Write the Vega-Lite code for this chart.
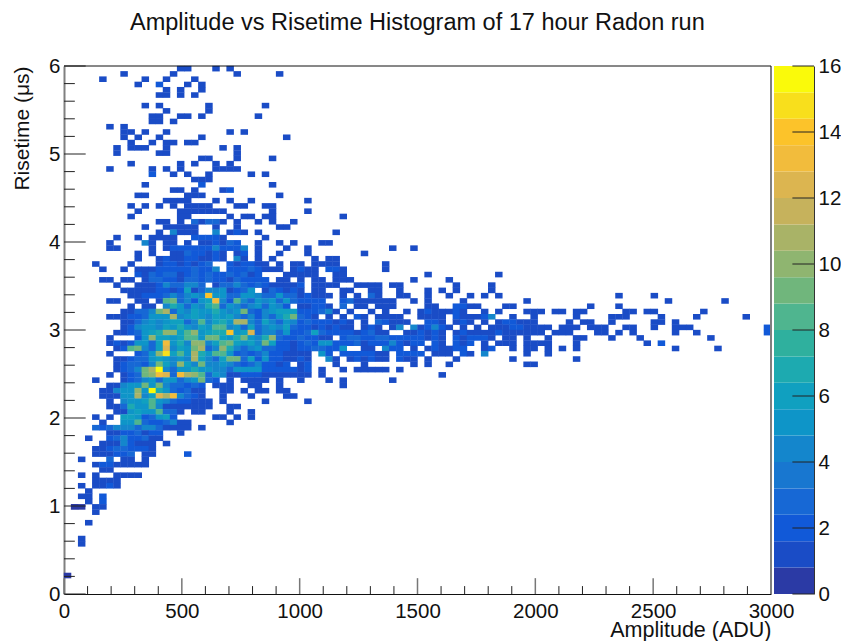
{"$schema":"https://vega.github.io/schema/vega-lite/v6.json","autosize":{"type":"pad"},"padding":{"left":11,"top":10,"right":0,"bottom":0},"background":"white","config":{"view":{"stroke":null},"font":"Liberation Sans"},"title":{"text":"Amplitude vs Risetime Histogram of 17 hour Radon run","font":"Liberation Sans","fontSize":23.5,"fontWeight":"normal","color":"#111111","anchor":"start","frame":"group","dx":66,"offset":22},"bounds":"flush","spacing":3,"hconcat":[{"width":707,"height":528,"layer":[{"data":{"values":[
{"a":495,"t":5.97,"n":1},{"a":525,"t":5.97,"n":1},{"a":645,"t":5.97,"n":1},{"a":705,"t":5.97,"n":1},
{"a":255,"t":5.91,"n":1},{"a":465,"t":5.91,"n":1},{"a":735,"t":5.91,"n":1},{"a":915,"t":5.91,"n":1},
{"a":165,"t":5.85,"n":1},{"a":345,"t":5.85,"n":1},{"a":435,"t":5.85,"n":1},{"a":555,"t":5.85,"n":1},
{"a":315,"t":5.79,"n":1},{"a":405,"t":5.79,"n":2},{"a":525,"t":5.79,"n":1},{"a":585,"t":5.79,"n":1},
{"a":435,"t":5.73,"n":1},{"a":495,"t":5.73,"n":1},{"a":585,"t":5.73,"n":1},
{"a":405,"t":5.67,"n":1},{"a":435,"t":5.67,"n":1},{"a":495,"t":5.67,"n":1},{"a":555,"t":5.67,"n":1},
{"a":345,"t":5.55,"n":1},{"a":405,"t":5.55,"n":1},{"a":615,"t":5.55,"n":1},{"a":855,"t":5.55,"n":1},
{"a":435,"t":5.49,"n":1},{"a":615,"t":5.49,"n":1},
{"a":375,"t":5.43,"n":1},{"a":405,"t":5.43,"n":1},{"a":495,"t":5.43,"n":1},{"a":525,"t":5.43,"n":1},{"a":585,"t":5.43,"n":1},{"a":825,"t":5.43,"n":1},
{"a":375,"t":5.37,"n":1},{"a":405,"t":5.37,"n":1},{"a":465,"t":5.37,"n":1},
{"a":195,"t":5.31,"n":1},{"a":255,"t":5.31,"n":1},
{"a":255,"t":5.25,"n":1},{"a":285,"t":5.25,"n":1},{"a":345,"t":5.25,"n":1},{"a":435,"t":5.25,"n":1},{"a":705,"t":5.25,"n":1},{"a":765,"t":5.25,"n":1},
{"a":255,"t":5.19,"n":1},{"a":315,"t":5.19,"n":1},{"a":405,"t":5.19,"n":1},{"a":585,"t":5.19,"n":1},{"a":945,"t":5.19,"n":1},
{"a":285,"t":5.13,"n":1},{"a":375,"t":5.13,"n":1},{"a":435,"t":5.13,"n":1},{"a":465,"t":5.13,"n":1},{"a":525,"t":5.13,"n":1},{"a":555,"t":5.13,"n":1},
{"a":225,"t":5.07,"n":1},{"a":285,"t":5.07,"n":1},{"a":315,"t":5.07,"n":1},{"a":345,"t":5.07,"n":1},{"a":435,"t":5.07,"n":1},{"a":675,"t":5.07,"n":1},{"a":735,"t":5.07,"n":1},
{"a":225,"t":5.01,"n":1},{"a":405,"t":5.01,"n":1},{"a":435,"t":5.01,"n":1},{"a":735,"t":5.01,"n":1},
{"a":585,"t":4.95,"n":1},{"a":615,"t":4.95,"n":1},{"a":735,"t":4.95,"n":1},{"a":885,"t":4.95,"n":1},
{"a":285,"t":4.89,"n":1},{"a":495,"t":4.89,"n":1},{"a":555,"t":4.89,"n":1},{"a":645,"t":4.89,"n":1},{"a":705,"t":4.89,"n":1},
{"a":195,"t":4.83,"n":1},{"a":375,"t":4.83,"n":1},{"a":435,"t":4.83,"n":1},{"a":495,"t":4.83,"n":1},{"a":645,"t":4.83,"n":1},{"a":675,"t":4.83,"n":1},{"a":705,"t":4.83,"n":1},{"a":735,"t":4.83,"n":1},
{"a":375,"t":4.77,"n":2},{"a":465,"t":4.77,"n":1},{"a":525,"t":4.77,"n":1},{"a":615,"t":4.77,"n":1},{"a":795,"t":4.77,"n":1},{"a":855,"t":4.77,"n":1},
{"a":555,"t":4.71,"n":1},{"a":585,"t":4.71,"n":1},{"a":615,"t":4.71,"n":1},
{"a":345,"t":4.65,"n":1},{"a":585,"t":4.65,"n":2},{"a":885,"t":4.65,"n":1},
{"a":465,"t":4.59,"n":1},{"a":495,"t":4.59,"n":1},{"a":555,"t":4.59,"n":1},{"a":675,"t":4.59,"n":1},{"a":705,"t":4.59,"n":2},
{"a":315,"t":4.53,"n":1},{"a":345,"t":4.53,"n":1},{"a":525,"t":4.53,"n":1},{"a":555,"t":4.53,"n":1},{"a":585,"t":4.53,"n":1},{"a":915,"t":4.53,"n":1},
{"a":435,"t":4.47,"n":1},{"a":465,"t":4.47,"n":1},{"a":495,"t":4.47,"n":1},{"a":525,"t":4.47,"n":1},{"a":645,"t":4.47,"n":1},{"a":705,"t":4.47,"n":1},{"a":795,"t":4.47,"n":1},{"a":1035,"t":4.47,"n":1},
{"a":285,"t":4.41,"n":1},{"a":345,"t":4.41,"n":1},{"a":405,"t":4.41,"n":1},{"a":465,"t":4.41,"n":1},{"a":525,"t":4.41,"n":1},{"a":555,"t":4.41,"n":1},{"a":585,"t":4.41,"n":1},{"a":615,"t":4.41,"n":1},{"a":735,"t":4.41,"n":1},{"a":765,"t":4.41,"n":1},{"a":855,"t":4.41,"n":1},{"a":885,"t":4.41,"n":1},
{"a":315,"t":4.35,"n":1},{"a":495,"t":4.35,"n":1},{"a":525,"t":4.35,"n":1},{"a":555,"t":4.35,"n":1},{"a":585,"t":4.35,"n":1},{"a":615,"t":4.35,"n":1},{"a":645,"t":4.35,"n":1},{"a":675,"t":4.35,"n":1},{"a":885,"t":4.35,"n":1},{"a":1035,"t":4.35,"n":1},
{"a":285,"t":4.29,"n":1},{"a":495,"t":4.29,"n":1},{"a":525,"t":4.29,"n":1},{"a":705,"t":4.29,"n":1},{"a":765,"t":4.29,"n":1},{"a":795,"t":4.29,"n":1},{"a":855,"t":4.29,"n":1},{"a":885,"t":4.29,"n":1},{"a":1185,"t":4.29,"n":1},
{"a":405,"t":4.23,"n":1},{"a":435,"t":4.23,"n":1},{"a":495,"t":4.23,"n":1},{"a":555,"t":4.23,"n":3},{"a":585,"t":4.23,"n":1},{"a":615,"t":4.23,"n":3},{"a":645,"t":4.23,"n":3},{"a":675,"t":4.23,"n":1},{"a":735,"t":4.23,"n":1},{"a":825,"t":4.23,"n":1},{"a":885,"t":4.23,"n":1},{"a":975,"t":4.23,"n":1},
{"a":345,"t":4.17,"n":1},{"a":435,"t":4.17,"n":1},{"a":465,"t":4.17,"n":1},{"a":495,"t":4.17,"n":1},{"a":525,"t":4.17,"n":1},{"a":555,"t":4.17,"n":1},{"a":645,"t":4.17,"n":1},{"a":735,"t":4.17,"n":1},{"a":915,"t":4.17,"n":1},{"a":945,"t":4.17,"n":1},
{"a":405,"t":4.11,"n":1},{"a":465,"t":4.11,"n":4},{"a":495,"t":4.11,"n":1},{"a":525,"t":4.11,"n":1},{"a":555,"t":4.11,"n":1},{"a":645,"t":4.11,"n":4},{"a":705,"t":4.11,"n":1},{"a":735,"t":4.11,"n":2},{"a":765,"t":4.11,"n":1},{"a":825,"t":4.11,"n":1},{"a":1155,"t":4.11,"n":1},
{"a":225,"t":4.05,"n":1},{"a":315,"t":4.05,"n":1},{"a":375,"t":4.05,"n":1},{"a":405,"t":4.05,"n":1},{"a":435,"t":4.05,"n":1},{"a":465,"t":4.05,"n":1},{"a":555,"t":4.05,"n":2},{"a":585,"t":4.05,"n":2},{"a":615,"t":4.05,"n":2},{"a":645,"t":4.05,"n":2},{"a":675,"t":4.05,"n":1},{"a":855,"t":4.05,"n":1},
{"a":195,"t":3.99,"n":1},{"a":345,"t":3.99,"n":4},{"a":375,"t":3.99,"n":1},{"a":435,"t":3.99,"n":1},{"a":465,"t":3.99,"n":1},{"a":525,"t":3.99,"n":1},{"a":585,"t":3.99,"n":1},{"a":615,"t":3.99,"n":1},{"a":645,"t":3.99,"n":2},{"a":675,"t":3.99,"n":1},{"a":705,"t":3.99,"n":3},{"a":735,"t":3.99,"n":2},{"a":825,"t":3.99,"n":1},{"a":915,"t":3.99,"n":1},{"a":975,"t":3.99,"n":1},{"a":1095,"t":3.99,"n":1},{"a":1125,"t":3.99,"n":1},
{"a":195,"t":3.93,"n":1},{"a":225,"t":3.93,"n":1},{"a":375,"t":3.93,"n":1},{"a":435,"t":3.93,"n":1},{"a":465,"t":3.93,"n":2},{"a":495,"t":3.93,"n":2},{"a":525,"t":3.93,"n":2},{"a":555,"t":3.93,"n":2},{"a":585,"t":3.93,"n":2},{"a":615,"t":3.93,"n":2},{"a":645,"t":3.93,"n":4},{"a":675,"t":3.93,"n":2},{"a":705,"t":3.93,"n":2},{"a":735,"t":3.93,"n":2},{"a":765,"t":3.93,"n":4},{"a":825,"t":3.93,"n":1},{"a":945,"t":3.93,"n":1},{"a":1035,"t":3.93,"n":1},{"a":1395,"t":3.93,"n":1},{"a":1485,"t":3.93,"n":1},
{"a":315,"t":3.87,"n":1},{"a":375,"t":3.87,"n":1},{"a":465,"t":3.87,"n":1},{"a":495,"t":3.87,"n":1},{"a":525,"t":3.87,"n":3},{"a":555,"t":3.87,"n":2},{"a":585,"t":3.87,"n":2},{"a":615,"t":3.87,"n":1},{"a":645,"t":3.87,"n":2},{"a":675,"t":3.87,"n":1},{"a":735,"t":3.87,"n":1},{"a":765,"t":3.87,"n":2},{"a":825,"t":3.87,"n":1},{"a":915,"t":3.87,"n":1},{"a":1035,"t":3.87,"n":1},{"a":1275,"t":3.87,"n":1},
{"a":315,"t":3.81,"n":1},{"a":405,"t":3.81,"n":1},{"a":435,"t":3.81,"n":2},{"a":465,"t":3.81,"n":1},{"a":495,"t":3.81,"n":1},{"a":525,"t":3.81,"n":2},{"a":555,"t":3.81,"n":2},{"a":585,"t":3.81,"n":1},{"a":615,"t":3.81,"n":1},{"a":645,"t":3.81,"n":2},{"a":675,"t":3.81,"n":1},{"a":735,"t":3.81,"n":4},{"a":765,"t":3.81,"n":1},{"a":825,"t":3.81,"n":1},{"a":885,"t":3.81,"n":1},{"a":1065,"t":3.81,"n":1},{"a":1125,"t":3.81,"n":1},{"a":1155,"t":3.81,"n":1},
{"a":135,"t":3.75,"n":1},{"a":285,"t":3.75,"n":1},{"a":405,"t":3.75,"n":1},{"a":435,"t":3.75,"n":2},{"a":465,"t":3.75,"n":2},{"a":495,"t":3.75,"n":1},{"a":525,"t":3.75,"n":2},{"a":555,"t":3.75,"n":1},{"a":585,"t":3.75,"n":2},{"a":615,"t":3.75,"n":3},{"a":705,"t":3.75,"n":2},{"a":735,"t":3.75,"n":1},{"a":765,"t":3.75,"n":2},{"a":795,"t":3.75,"n":2},{"a":825,"t":3.75,"n":1},{"a":855,"t":3.75,"n":1},{"a":915,"t":3.75,"n":1},{"a":975,"t":3.75,"n":1},{"a":1005,"t":3.75,"n":1},{"a":1065,"t":3.75,"n":1},{"a":1095,"t":3.75,"n":1},{"a":1125,"t":3.75,"n":1},{"a":1155,"t":3.75,"n":1},{"a":1365,"t":3.75,"n":1},
{"a":165,"t":3.69,"n":1},{"a":255,"t":3.69,"n":1},{"a":315,"t":3.69,"n":1},{"a":345,"t":3.69,"n":1},{"a":375,"t":3.69,"n":1},{"a":405,"t":3.69,"n":2},{"a":435,"t":3.69,"n":2},{"a":465,"t":3.69,"n":2},{"a":495,"t":3.69,"n":2},{"a":525,"t":3.69,"n":2},{"a":555,"t":3.69,"n":3},{"a":585,"t":3.69,"n":2},{"a":615,"t":3.69,"n":2},{"a":645,"t":3.69,"n":4},{"a":705,"t":3.69,"n":2},{"a":735,"t":3.69,"n":2},{"a":765,"t":3.69,"n":2},{"a":795,"t":3.69,"n":3},{"a":825,"t":3.69,"n":2},{"a":855,"t":3.69,"n":1},{"a":885,"t":3.69,"n":1},{"a":915,"t":3.69,"n":1},{"a":975,"t":3.69,"n":1},{"a":1005,"t":3.69,"n":2},{"a":1035,"t":3.69,"n":1},{"a":1065,"t":3.69,"n":1},{"a":1125,"t":3.69,"n":2},{"a":1155,"t":3.69,"n":2},{"a":1185,"t":3.69,"n":1},{"a":1365,"t":3.69,"n":1},
{"a":315,"t":3.63,"n":2},{"a":345,"t":3.63,"n":1},{"a":375,"t":3.63,"n":3},{"a":405,"t":3.63,"n":2},{"a":435,"t":3.63,"n":3},{"a":465,"t":3.63,"n":3},{"a":495,"t":3.63,"n":1},{"a":525,"t":3.63,"n":2},{"a":555,"t":3.63,"n":3},{"a":585,"t":3.63,"n":2},{"a":615,"t":3.63,"n":3},{"a":645,"t":3.63,"n":2},{"a":675,"t":3.63,"n":2},{"a":705,"t":3.63,"n":3},{"a":735,"t":3.63,"n":2},{"a":765,"t":3.63,"n":3},{"a":795,"t":3.63,"n":1},{"a":825,"t":3.63,"n":2},{"a":945,"t":3.63,"n":1},{"a":975,"t":3.63,"n":1},{"a":1005,"t":3.63,"n":1},{"a":1035,"t":3.63,"n":1},{"a":1065,"t":3.63,"n":1},{"a":1155,"t":3.63,"n":1},{"a":1185,"t":3.63,"n":1},{"a":1545,"t":3.63,"n":1},{"a":1845,"t":3.63,"n":1},
{"a":165,"t":3.57,"n":1},{"a":195,"t":3.57,"n":1},{"a":255,"t":3.57,"n":1},{"a":285,"t":3.57,"n":1},{"a":345,"t":3.57,"n":1},{"a":375,"t":3.57,"n":3},{"a":405,"t":3.57,"n":3},{"a":435,"t":3.57,"n":2},{"a":465,"t":3.57,"n":2},{"a":495,"t":3.57,"n":1},{"a":525,"t":3.57,"n":3},{"a":555,"t":3.57,"n":3},{"a":585,"t":3.57,"n":2},{"a":615,"t":3.57,"n":3},{"a":645,"t":3.57,"n":2},{"a":675,"t":3.57,"n":2},{"a":705,"t":3.57,"n":1},{"a":735,"t":3.57,"n":3},{"a":765,"t":3.57,"n":2},{"a":795,"t":3.57,"n":2},{"a":825,"t":3.57,"n":2},{"a":855,"t":3.57,"n":2},{"a":915,"t":3.57,"n":1},{"a":945,"t":3.57,"n":1},{"a":1005,"t":3.57,"n":1},{"a":1065,"t":3.57,"n":1},{"a":1095,"t":3.57,"n":1},{"a":1155,"t":3.57,"n":1},{"a":1185,"t":3.57,"n":1},{"a":1215,"t":3.57,"n":1},{"a":1485,"t":3.57,"n":1},{"a":1635,"t":3.57,"n":1},
{"a":225,"t":3.51,"n":1},{"a":315,"t":3.51,"n":1},{"a":345,"t":3.51,"n":1},{"a":375,"t":3.51,"n":1},{"a":405,"t":3.51,"n":2},{"a":435,"t":3.51,"n":4},{"a":465,"t":3.51,"n":3},{"a":495,"t":3.51,"n":3},{"a":525,"t":3.51,"n":4},{"a":555,"t":3.51,"n":4},{"a":585,"t":3.51,"n":3},{"a":645,"t":3.51,"n":1},{"a":675,"t":3.51,"n":3},{"a":705,"t":3.51,"n":3},{"a":735,"t":3.51,"n":4},{"a":765,"t":3.51,"n":3},{"a":795,"t":3.51,"n":2},{"a":825,"t":3.51,"n":3},{"a":855,"t":3.51,"n":2},{"a":885,"t":3.51,"n":1},{"a":915,"t":3.51,"n":1},{"a":945,"t":3.51,"n":1},{"a":975,"t":3.51,"n":1},{"a":1005,"t":3.51,"n":2},{"a":1065,"t":3.51,"n":1},{"a":1095,"t":3.51,"n":1},{"a":1125,"t":3.51,"n":1},{"a":1155,"t":3.51,"n":1},{"a":1245,"t":3.51,"n":1},{"a":1275,"t":3.51,"n":1},{"a":1305,"t":3.51,"n":1},{"a":1335,"t":3.51,"n":1},{"a":1395,"t":3.51,"n":1},{"a":1425,"t":3.51,"n":1},{"a":1665,"t":3.51,"n":1},{"a":1815,"t":3.51,"n":1},
{"a":255,"t":3.45,"n":1},{"a":285,"t":3.45,"n":1},{"a":315,"t":3.45,"n":1},{"a":345,"t":3.45,"n":1},{"a":375,"t":3.45,"n":1},{"a":405,"t":3.45,"n":2},{"a":435,"t":3.45,"n":2},{"a":465,"t":3.45,"n":1},{"a":495,"t":3.45,"n":2},{"a":525,"t":3.45,"n":6},{"a":555,"t":3.45,"n":1},{"a":585,"t":3.45,"n":3},{"a":615,"t":3.45,"n":4},{"a":645,"t":3.45,"n":4},{"a":675,"t":3.45,"n":5},{"a":705,"t":3.45,"n":1},{"a":735,"t":3.45,"n":2},{"a":765,"t":3.45,"n":3},{"a":795,"t":3.45,"n":5},{"a":855,"t":3.45,"n":1},{"a":885,"t":3.45,"n":3},{"a":915,"t":3.45,"n":2},{"a":945,"t":3.45,"n":1},{"a":975,"t":3.45,"n":2},{"a":1005,"t":3.45,"n":1},{"a":1065,"t":3.45,"n":1},{"a":1095,"t":3.45,"n":1},{"a":1185,"t":3.45,"n":1},{"a":1215,"t":3.45,"n":1},{"a":1305,"t":3.45,"n":1},{"a":1335,"t":3.45,"n":1},{"a":1425,"t":3.45,"n":1},{"a":1545,"t":3.45,"n":1},{"a":1605,"t":3.45,"n":1},{"a":1665,"t":3.45,"n":1},{"a":1815,"t":3.45,"n":1},
{"a":285,"t":3.39,"n":1},{"a":315,"t":3.39,"n":1},{"a":345,"t":3.39,"n":2},{"a":375,"t":3.39,"n":2},{"a":405,"t":3.39,"n":2},{"a":435,"t":3.39,"n":3},{"a":465,"t":3.39,"n":4},{"a":495,"t":3.39,"n":3},{"a":525,"t":3.39,"n":4},{"a":555,"t":3.39,"n":5},{"a":585,"t":3.39,"n":4},{"a":615,"t":3.39,"n":14},{"a":645,"t":3.39,"n":5},{"a":675,"t":3.39,"n":5},{"a":705,"t":3.39,"n":3},{"a":735,"t":3.39,"n":3},{"a":765,"t":3.39,"n":5},{"a":795,"t":3.39,"n":5},{"a":825,"t":3.39,"n":4},{"a":855,"t":3.39,"n":3},{"a":885,"t":3.39,"n":3},{"a":915,"t":3.39,"n":5},{"a":945,"t":3.39,"n":3},{"a":975,"t":3.39,"n":3},{"a":1005,"t":3.39,"n":1},{"a":1035,"t":3.39,"n":2},{"a":1065,"t":3.39,"n":1},{"a":1095,"t":3.39,"n":1},{"a":1125,"t":3.39,"n":1},{"a":1185,"t":3.39,"n":1},{"a":1245,"t":3.39,"n":1},{"a":1305,"t":3.39,"n":3},{"a":1335,"t":3.39,"n":1},{"a":1425,"t":3.39,"n":1},{"a":1455,"t":3.39,"n":1},{"a":1545,"t":3.39,"n":1},{"a":1635,"t":3.39,"n":1},{"a":1725,"t":3.39,"n":1},{"a":1785,"t":3.39,"n":1},{"a":1845,"t":3.39,"n":1},{"a":2355,"t":3.39,"n":1},{"a":2505,"t":3.39,"n":1},
{"a":195,"t":3.33,"n":1},{"a":225,"t":3.33,"n":1},{"a":315,"t":3.33,"n":1},{"a":345,"t":3.33,"n":1},{"a":405,"t":3.33,"n":1},{"a":435,"t":3.33,"n":8},{"a":465,"t":3.33,"n":9},{"a":495,"t":3.33,"n":3},{"a":525,"t":3.33,"n":4},{"a":555,"t":3.33,"n":2},{"a":585,"t":3.33,"n":5},{"a":615,"t":3.33,"n":6},{"a":645,"t":3.33,"n":13},{"a":675,"t":3.33,"n":4},{"a":705,"t":3.33,"n":2},{"a":735,"t":3.33,"n":8},{"a":765,"t":3.33,"n":4},{"a":795,"t":3.33,"n":3},{"a":825,"t":3.33,"n":5},{"a":855,"t":3.33,"n":4},{"a":885,"t":3.33,"n":5},{"a":915,"t":3.33,"n":3},{"a":945,"t":3.33,"n":5},{"a":975,"t":3.33,"n":3},{"a":1005,"t":3.33,"n":2},{"a":1035,"t":3.33,"n":2},{"a":1065,"t":3.33,"n":2},{"a":1095,"t":3.33,"n":2},{"a":1185,"t":3.33,"n":2},{"a":1215,"t":3.33,"n":3},{"a":1245,"t":3.33,"n":1},{"a":1275,"t":3.33,"n":1},{"a":1305,"t":3.33,"n":1},{"a":1335,"t":3.33,"n":1},{"a":1365,"t":3.33,"n":1},{"a":1395,"t":3.33,"n":1},{"a":1485,"t":3.33,"n":1},{"a":1545,"t":3.33,"n":1},{"a":1695,"t":3.33,"n":1},{"a":1965,"t":3.33,"n":1},{"a":2565,"t":3.33,"n":1},{"a":2805,"t":3.33,"n":1},
{"a":285,"t":3.27,"n":1},{"a":345,"t":3.27,"n":1},{"a":375,"t":3.27,"n":1},{"a":435,"t":3.27,"n":4},{"a":465,"t":3.27,"n":7},{"a":495,"t":3.27,"n":5},{"a":525,"t":3.27,"n":3},{"a":555,"t":3.27,"n":5},{"a":585,"t":3.27,"n":4},{"a":615,"t":3.27,"n":7},{"a":645,"t":3.27,"n":8},{"a":675,"t":3.27,"n":3},{"a":705,"t":3.27,"n":5},{"a":735,"t":3.27,"n":4},{"a":765,"t":3.27,"n":3},{"a":795,"t":3.27,"n":4},{"a":825,"t":3.27,"n":5},{"a":855,"t":3.27,"n":3},{"a":885,"t":3.27,"n":5},{"a":915,"t":3.27,"n":4},{"a":945,"t":3.27,"n":2},{"a":1005,"t":3.27,"n":1},{"a":1035,"t":3.27,"n":1},{"a":1065,"t":3.27,"n":2},{"a":1095,"t":3.27,"n":2},{"a":1125,"t":3.27,"n":1},{"a":1185,"t":3.27,"n":3},{"a":1245,"t":3.27,"n":1},{"a":1275,"t":3.27,"n":1},{"a":1335,"t":3.27,"n":1},{"a":1365,"t":3.27,"n":1},{"a":1395,"t":3.27,"n":1},{"a":1545,"t":3.27,"n":1},{"a":1575,"t":3.27,"n":1},{"a":1665,"t":3.27,"n":2},{"a":1695,"t":3.27,"n":2},{"a":1725,"t":3.27,"n":1},{"a":1755,"t":3.27,"n":1},{"a":1875,"t":3.27,"n":1},{"a":1905,"t":3.27,"n":1},{"a":2235,"t":3.27,"n":1},{"a":2355,"t":3.27,"n":1},
{"a":255,"t":3.21,"n":1},{"a":285,"t":3.21,"n":1},{"a":315,"t":3.21,"n":3},{"a":345,"t":3.21,"n":3},{"a":375,"t":3.21,"n":4},{"a":405,"t":3.21,"n":9},{"a":435,"t":3.21,"n":11},{"a":465,"t":3.21,"n":3},{"a":495,"t":3.21,"n":5},{"a":525,"t":3.21,"n":4},{"a":555,"t":3.21,"n":6},{"a":585,"t":3.21,"n":5},{"a":615,"t":3.21,"n":5},{"a":645,"t":3.21,"n":7},{"a":675,"t":3.21,"n":5},{"a":705,"t":3.21,"n":4},{"a":735,"t":3.21,"n":5},{"a":765,"t":3.21,"n":9},{"a":795,"t":3.21,"n":3},{"a":825,"t":3.21,"n":2},{"a":855,"t":3.21,"n":4},{"a":885,"t":3.21,"n":5},{"a":915,"t":3.21,"n":6},{"a":945,"t":3.21,"n":6},{"a":975,"t":3.21,"n":6},{"a":1005,"t":3.21,"n":2},{"a":1035,"t":3.21,"n":2},{"a":1065,"t":3.21,"n":2},{"a":1095,"t":3.21,"n":3},{"a":1125,"t":3.21,"n":4},{"a":1155,"t":3.21,"n":1},{"a":1215,"t":3.21,"n":1},{"a":1305,"t":3.21,"n":1},{"a":1365,"t":3.21,"n":1},{"a":1455,"t":3.21,"n":1},{"a":1515,"t":3.21,"n":1},{"a":1545,"t":3.21,"n":2},{"a":1575,"t":3.21,"n":1},{"a":1605,"t":3.21,"n":1},{"a":1635,"t":3.21,"n":1},{"a":1665,"t":3.21,"n":2},{"a":1695,"t":3.21,"n":1},{"a":1785,"t":3.21,"n":1},{"a":1845,"t":3.21,"n":1},{"a":1965,"t":3.21,"n":1},{"a":1995,"t":3.21,"n":1},{"a":2025,"t":3.21,"n":1},{"a":2085,"t":3.21,"n":1},{"a":2115,"t":3.21,"n":1},{"a":2175,"t":3.21,"n":1},{"a":2205,"t":3.21,"n":1},{"a":2385,"t":3.21,"n":1},{"a":2415,"t":3.21,"n":1},{"a":2475,"t":3.21,"n":1},{"a":2505,"t":3.21,"n":1},{"a":2715,"t":3.21,"n":1},
{"a":195,"t":3.15,"n":1},{"a":225,"t":3.15,"n":1},{"a":255,"t":3.15,"n":1},{"a":285,"t":3.15,"n":2},{"a":315,"t":3.15,"n":2},{"a":345,"t":3.15,"n":3},{"a":375,"t":3.15,"n":5},{"a":405,"t":3.15,"n":5},{"a":435,"t":3.15,"n":5},{"a":465,"t":3.15,"n":11},{"a":495,"t":3.15,"n":4},{"a":525,"t":3.15,"n":5},{"a":555,"t":3.15,"n":6},{"a":585,"t":3.15,"n":5},{"a":615,"t":3.15,"n":4},{"a":645,"t":3.15,"n":6},{"a":675,"t":3.15,"n":5},{"a":705,"t":3.15,"n":6},{"a":735,"t":3.15,"n":4},{"a":765,"t":3.15,"n":3},{"a":795,"t":3.15,"n":4},{"a":825,"t":3.15,"n":2},{"a":855,"t":3.15,"n":4},{"a":885,"t":3.15,"n":3},{"a":915,"t":3.15,"n":5},{"a":945,"t":3.15,"n":7},{"a":975,"t":3.15,"n":9},{"a":1005,"t":3.15,"n":3},{"a":1035,"t":3.15,"n":2},{"a":1065,"t":3.15,"n":1},{"a":1125,"t":3.15,"n":1},{"a":1185,"t":3.15,"n":1},{"a":1245,"t":3.15,"n":2},{"a":1275,"t":3.15,"n":1},{"a":1335,"t":3.15,"n":1},{"a":1365,"t":3.15,"n":1},{"a":1395,"t":3.15,"n":1},{"a":1425,"t":3.15,"n":1},{"a":1515,"t":3.15,"n":1},{"a":1545,"t":3.15,"n":1},{"a":1575,"t":3.15,"n":1},{"a":1605,"t":3.15,"n":1},{"a":1665,"t":3.15,"n":2},{"a":1695,"t":3.15,"n":1},{"a":1725,"t":3.15,"n":1},{"a":1755,"t":3.15,"n":1},{"a":1785,"t":3.15,"n":2},{"a":1815,"t":3.15,"n":4},{"a":1905,"t":3.15,"n":1},{"a":1995,"t":3.15,"n":1},{"a":2175,"t":3.15,"n":1},{"a":2325,"t":3.15,"n":1},{"a":2355,"t":3.15,"n":1},{"a":2385,"t":3.15,"n":1},{"a":2535,"t":3.15,"n":1},{"a":2685,"t":3.15,"n":1},{"a":2895,"t":3.15,"n":1},
{"a":255,"t":3.09,"n":1},{"a":285,"t":3.09,"n":1},{"a":315,"t":3.09,"n":3},{"a":345,"t":3.09,"n":4},{"a":375,"t":3.09,"n":5},{"a":405,"t":3.09,"n":4},{"a":435,"t":3.09,"n":5},{"a":465,"t":3.09,"n":6},{"a":495,"t":3.09,"n":6},{"a":525,"t":3.09,"n":3},{"a":555,"t":3.09,"n":4},{"a":585,"t":3.09,"n":8},{"a":615,"t":3.09,"n":4},{"a":645,"t":3.09,"n":6},{"a":675,"t":3.09,"n":7},{"a":705,"t":3.09,"n":5},{"a":735,"t":3.09,"n":11},{"a":765,"t":3.09,"n":11},{"a":795,"t":3.09,"n":4},{"a":825,"t":3.09,"n":3},{"a":855,"t":3.09,"n":6},{"a":885,"t":3.09,"n":4},{"a":915,"t":3.09,"n":3},{"a":945,"t":3.09,"n":5},{"a":975,"t":3.09,"n":4},{"a":1005,"t":3.09,"n":2},{"a":1035,"t":3.09,"n":3},{"a":1065,"t":3.09,"n":2},{"a":1095,"t":3.09,"n":2},{"a":1125,"t":3.09,"n":2},{"a":1155,"t":3.09,"n":1},{"a":1185,"t":3.09,"n":2},{"a":1215,"t":3.09,"n":1},{"a":1275,"t":3.09,"n":1},{"a":1335,"t":3.09,"n":3},{"a":1365,"t":3.09,"n":2},{"a":1395,"t":3.09,"n":1},{"a":1425,"t":3.09,"n":1},{"a":1455,"t":3.09,"n":1},{"a":1545,"t":3.09,"n":2},{"a":1575,"t":3.09,"n":2},{"a":1605,"t":3.09,"n":1},{"a":1665,"t":3.09,"n":1},{"a":1695,"t":3.09,"n":2},{"a":1725,"t":3.09,"n":1},{"a":1785,"t":3.09,"n":1},{"a":1845,"t":3.09,"n":1},{"a":1875,"t":3.09,"n":2},{"a":1905,"t":3.09,"n":2},{"a":1935,"t":3.09,"n":1},{"a":1965,"t":3.09,"n":1},{"a":1995,"t":3.09,"n":1},{"a":2145,"t":3.09,"n":1},{"a":2205,"t":3.09,"n":1},{"a":2235,"t":3.09,"n":1},{"a":2325,"t":3.09,"n":1},{"a":2505,"t":3.09,"n":1},{"a":2535,"t":3.09,"n":1},{"a":2595,"t":3.09,"n":1},
{"a":255,"t":3.03,"n":1},{"a":285,"t":3.03,"n":2},{"a":315,"t":3.03,"n":4},{"a":345,"t":3.03,"n":5},{"a":375,"t":3.03,"n":5},{"a":405,"t":3.03,"n":4},{"a":435,"t":3.03,"n":6},{"a":465,"t":3.03,"n":5},{"a":495,"t":3.03,"n":7},{"a":525,"t":3.03,"n":5},{"a":555,"t":3.03,"n":4},{"a":585,"t":3.03,"n":6},{"a":615,"t":3.03,"n":5},{"a":645,"t":3.03,"n":8},{"a":675,"t":3.03,"n":8},{"a":705,"t":3.03,"n":4},{"a":735,"t":3.03,"n":5},{"a":765,"t":3.03,"n":3},{"a":795,"t":3.03,"n":6},{"a":825,"t":3.03,"n":3},{"a":855,"t":3.03,"n":4},{"a":885,"t":3.03,"n":5},{"a":915,"t":3.03,"n":4},{"a":945,"t":3.03,"n":6},{"a":975,"t":3.03,"n":3},{"a":1005,"t":3.03,"n":2},{"a":1035,"t":3.03,"n":2},{"a":1065,"t":3.03,"n":1},{"a":1095,"t":3.03,"n":2},{"a":1125,"t":3.03,"n":1},{"a":1155,"t":3.03,"n":2},{"a":1185,"t":3.03,"n":1},{"a":1215,"t":3.03,"n":1},{"a":1275,"t":3.03,"n":1},{"a":1305,"t":3.03,"n":2},{"a":1335,"t":3.03,"n":1},{"a":1395,"t":3.03,"n":1},{"a":1425,"t":3.03,"n":4},{"a":1485,"t":3.03,"n":4},{"a":1515,"t":3.03,"n":1},{"a":1545,"t":3.03,"n":2},{"a":1575,"t":3.03,"n":4},{"a":1605,"t":3.03,"n":2},{"a":1635,"t":3.03,"n":1},{"a":1695,"t":3.03,"n":1},{"a":1755,"t":3.03,"n":1},{"a":1815,"t":3.03,"n":1},{"a":1845,"t":3.03,"n":1},{"a":1875,"t":3.03,"n":1},{"a":1905,"t":3.03,"n":2},{"a":1935,"t":3.03,"n":2},{"a":1965,"t":3.03,"n":1},{"a":1995,"t":3.03,"n":1},{"a":2025,"t":3.03,"n":1},{"a":2055,"t":3.03,"n":1},{"a":2115,"t":3.03,"n":1},{"a":2145,"t":3.03,"n":1},{"a":2175,"t":3.03,"n":1},{"a":2235,"t":3.03,"n":1},{"a":2265,"t":3.03,"n":1},{"a":2295,"t":3.03,"n":1},{"a":2385,"t":3.03,"n":1},{"a":2415,"t":3.03,"n":1},{"a":2505,"t":3.03,"n":1},{"a":2595,"t":3.03,"n":1},{"a":2625,"t":3.03,"n":1},{"a":2655,"t":3.03,"n":1},{"a":2985,"t":3.03,"n":2},
{"a":225,"t":2.97,"n":1},{"a":255,"t":2.97,"n":1},{"a":285,"t":2.97,"n":2},{"a":315,"t":2.97,"n":3},{"a":345,"t":2.97,"n":5},{"a":375,"t":2.97,"n":6},{"a":405,"t":2.97,"n":7},{"a":435,"t":2.97,"n":10},{"a":465,"t":2.97,"n":10},{"a":495,"t":2.97,"n":6},{"a":525,"t":2.97,"n":8},{"a":555,"t":2.97,"n":10},{"a":585,"t":2.97,"n":5},{"a":615,"t":2.97,"n":6},{"a":645,"t":2.97,"n":7},{"a":675,"t":2.97,"n":7},{"a":705,"t":2.97,"n":14},{"a":735,"t":2.97,"n":5},{"a":765,"t":2.97,"n":6},{"a":795,"t":2.97,"n":12},{"a":825,"t":2.97,"n":3},{"a":855,"t":2.97,"n":4},{"a":885,"t":2.97,"n":4},{"a":915,"t":2.97,"n":3},{"a":945,"t":2.97,"n":5},{"a":975,"t":2.97,"n":2},{"a":1005,"t":2.97,"n":2},{"a":1035,"t":2.97,"n":3},{"a":1065,"t":2.97,"n":6},{"a":1095,"t":2.97,"n":3},{"a":1125,"t":2.97,"n":2},{"a":1155,"t":2.97,"n":2},{"a":1185,"t":2.97,"n":2},{"a":1215,"t":2.97,"n":2},{"a":1245,"t":2.97,"n":1},{"a":1275,"t":2.97,"n":2},{"a":1305,"t":2.97,"n":3},{"a":1335,"t":2.97,"n":1},{"a":1365,"t":2.97,"n":1},{"a":1455,"t":2.97,"n":1},{"a":1485,"t":2.97,"n":1},{"a":1515,"t":2.97,"n":2},{"a":1545,"t":2.97,"n":1},{"a":1575,"t":2.97,"n":2},{"a":1605,"t":2.97,"n":1},{"a":1665,"t":2.97,"n":1},{"a":1695,"t":2.97,"n":2},{"a":1725,"t":2.97,"n":1},{"a":1755,"t":2.97,"n":1},{"a":1785,"t":2.97,"n":1},{"a":1815,"t":2.97,"n":1},{"a":1845,"t":2.97,"n":2},{"a":1875,"t":2.97,"n":1},{"a":1905,"t":2.97,"n":1},{"a":1935,"t":2.97,"n":1},{"a":1965,"t":2.97,"n":1},{"a":1995,"t":2.97,"n":1},{"a":2025,"t":2.97,"n":1},{"a":2085,"t":2.97,"n":1},{"a":2115,"t":2.97,"n":1},{"a":2145,"t":2.97,"n":1},{"a":2265,"t":2.97,"n":1},{"a":2295,"t":2.97,"n":1},{"a":2355,"t":2.97,"n":1},{"a":2415,"t":2.97,"n":1},{"a":2595,"t":2.97,"n":1},{"a":2685,"t":2.97,"n":1},{"a":2985,"t":2.97,"n":2},
{"a":195,"t":2.91,"n":1},{"a":315,"t":2.91,"n":2},{"a":345,"t":2.91,"n":5},{"a":375,"t":2.91,"n":10},{"a":405,"t":2.91,"n":6},{"a":435,"t":2.91,"n":6},{"a":465,"t":2.91,"n":5},{"a":495,"t":2.91,"n":6},{"a":525,"t":2.91,"n":8},{"a":555,"t":2.91,"n":8},{"a":585,"t":2.91,"n":5},{"a":615,"t":2.91,"n":9},{"a":645,"t":2.91,"n":9},{"a":675,"t":2.91,"n":6},{"a":705,"t":2.91,"n":5},{"a":735,"t":2.91,"n":7},{"a":765,"t":2.91,"n":9},{"a":795,"t":2.91,"n":5},{"a":825,"t":2.91,"n":4},{"a":855,"t":2.91,"n":7},{"a":885,"t":2.91,"n":10},{"a":915,"t":2.91,"n":3},{"a":945,"t":2.91,"n":2},{"a":975,"t":2.91,"n":2},{"a":1005,"t":2.91,"n":3},{"a":1035,"t":2.91,"n":2},{"a":1065,"t":2.91,"n":2},{"a":1095,"t":2.91,"n":1},{"a":1125,"t":2.91,"n":1},{"a":1185,"t":2.91,"n":2},{"a":1215,"t":2.91,"n":3},{"a":1245,"t":2.91,"n":3},{"a":1275,"t":2.91,"n":2},{"a":1305,"t":2.91,"n":2},{"a":1335,"t":2.91,"n":3},{"a":1365,"t":2.91,"n":3},{"a":1395,"t":2.91,"n":2},{"a":1425,"t":2.91,"n":2},{"a":1455,"t":2.91,"n":2},{"a":1485,"t":2.91,"n":2},{"a":1515,"t":2.91,"n":2},{"a":1545,"t":2.91,"n":1},{"a":1575,"t":2.91,"n":2},{"a":1605,"t":2.91,"n":1},{"a":1665,"t":2.91,"n":2},{"a":1695,"t":2.91,"n":1},{"a":1725,"t":2.91,"n":2},{"a":1755,"t":2.91,"n":2},{"a":1785,"t":2.91,"n":2},{"a":1815,"t":2.91,"n":1},{"a":1875,"t":2.91,"n":1},{"a":1905,"t":2.91,"n":1},{"a":1965,"t":2.91,"n":1},{"a":2055,"t":2.91,"n":1},{"a":2175,"t":2.91,"n":1},{"a":2205,"t":2.91,"n":1},{"a":2325,"t":2.91,"n":1},{"a":2445,"t":2.91,"n":1},{"a":2745,"t":2.91,"n":1},
{"a":195,"t":2.85,"n":1},{"a":225,"t":2.85,"n":2},{"a":255,"t":2.85,"n":1},{"a":285,"t":2.85,"n":2},{"a":315,"t":2.85,"n":5},{"a":345,"t":2.85,"n":5},{"a":375,"t":2.85,"n":3},{"a":405,"t":2.85,"n":6},{"a":435,"t":2.85,"n":13},{"a":465,"t":2.85,"n":5},{"a":495,"t":2.85,"n":7},{"a":525,"t":2.85,"n":4},{"a":555,"t":2.85,"n":10},{"a":585,"t":2.85,"n":10},{"a":615,"t":2.85,"n":4},{"a":645,"t":2.85,"n":6},{"a":675,"t":2.85,"n":8},{"a":705,"t":2.85,"n":9},{"a":735,"t":2.85,"n":6},{"a":765,"t":2.85,"n":5},{"a":795,"t":2.85,"n":6},{"a":825,"t":2.85,"n":4},{"a":855,"t":2.85,"n":9},{"a":885,"t":2.85,"n":6},{"a":915,"t":2.85,"n":2},{"a":945,"t":2.85,"n":2},{"a":975,"t":2.85,"n":1},{"a":1005,"t":2.85,"n":2},{"a":1035,"t":2.85,"n":3},{"a":1065,"t":2.85,"n":2},{"a":1095,"t":2.85,"n":5},{"a":1125,"t":2.85,"n":5},{"a":1155,"t":2.85,"n":2},{"a":1185,"t":2.85,"n":2},{"a":1215,"t":2.85,"n":2},{"a":1245,"t":2.85,"n":3},{"a":1275,"t":2.85,"n":1},{"a":1305,"t":2.85,"n":2},{"a":1335,"t":2.85,"n":2},{"a":1365,"t":2.85,"n":2},{"a":1395,"t":2.85,"n":4},{"a":1425,"t":2.85,"n":2},{"a":1455,"t":2.85,"n":1},{"a":1485,"t":2.85,"n":2},{"a":1515,"t":2.85,"n":2},{"a":1575,"t":2.85,"n":2},{"a":1605,"t":2.85,"n":1},{"a":1665,"t":2.85,"n":2},{"a":1695,"t":2.85,"n":1},{"a":1725,"t":2.85,"n":2},{"a":1785,"t":2.85,"n":1},{"a":1845,"t":2.85,"n":1},{"a":1875,"t":2.85,"n":1},{"a":1905,"t":2.85,"n":1},{"a":1965,"t":2.85,"n":1},{"a":1995,"t":2.85,"n":1},{"a":2025,"t":2.85,"n":1},{"a":2055,"t":2.85,"n":1},{"a":2175,"t":2.85,"n":1},{"a":2475,"t":2.85,"n":1},{"a":2535,"t":2.85,"n":2},
{"a":225,"t":2.79,"n":1},{"a":255,"t":2.79,"n":2},{"a":285,"t":2.79,"n":8},{"a":315,"t":2.79,"n":9},{"a":345,"t":2.79,"n":4},{"a":375,"t":2.79,"n":3},{"a":405,"t":2.79,"n":6},{"a":435,"t":2.79,"n":12},{"a":465,"t":2.79,"n":4},{"a":495,"t":2.79,"n":6},{"a":525,"t":2.79,"n":5},{"a":555,"t":2.79,"n":9},{"a":585,"t":2.79,"n":11},{"a":615,"t":2.79,"n":3},{"a":645,"t":2.79,"n":4},{"a":675,"t":2.79,"n":10},{"a":705,"t":2.79,"n":7},{"a":735,"t":2.79,"n":4},{"a":765,"t":2.79,"n":3},{"a":795,"t":2.79,"n":4},{"a":825,"t":2.79,"n":5},{"a":855,"t":2.79,"n":3},{"a":885,"t":2.79,"n":3},{"a":915,"t":2.79,"n":2},{"a":945,"t":2.79,"n":2},{"a":975,"t":2.79,"n":1},{"a":1005,"t":2.79,"n":2},{"a":1035,"t":2.79,"n":2},{"a":1065,"t":2.79,"n":3},{"a":1095,"t":2.79,"n":3},{"a":1125,"t":2.79,"n":2},{"a":1155,"t":2.79,"n":2},{"a":1185,"t":2.79,"n":5},{"a":1275,"t":2.79,"n":1},{"a":1305,"t":2.79,"n":1},{"a":1365,"t":2.79,"n":4},{"a":1395,"t":2.79,"n":2},{"a":1425,"t":2.79,"n":2},{"a":1485,"t":2.79,"n":1},{"a":1545,"t":2.79,"n":1},{"a":1575,"t":2.79,"n":2},{"a":1605,"t":2.79,"n":1},{"a":1635,"t":2.79,"n":1},{"a":1665,"t":2.79,"n":2},{"a":1695,"t":2.79,"n":2},{"a":1785,"t":2.79,"n":1},{"a":1815,"t":2.79,"n":2},{"a":1905,"t":2.79,"n":1},{"a":1965,"t":2.79,"n":1},{"a":1995,"t":2.79,"n":1},{"a":2055,"t":2.79,"n":1},{"a":2115,"t":2.79,"n":1},{"a":2175,"t":2.79,"n":1},{"a":2595,"t":2.79,"n":1},{"a":2775,"t":2.79,"n":1},
{"a":195,"t":2.73,"n":1},{"a":315,"t":2.73,"n":2},{"a":345,"t":2.73,"n":3},{"a":375,"t":2.73,"n":5},{"a":405,"t":2.73,"n":10},{"a":435,"t":2.73,"n":15},{"a":465,"t":2.73,"n":6},{"a":495,"t":2.73,"n":8},{"a":525,"t":2.73,"n":5},{"a":555,"t":2.73,"n":11},{"a":585,"t":2.73,"n":7},{"a":615,"t":2.73,"n":5},{"a":645,"t":2.73,"n":8},{"a":675,"t":2.73,"n":8},{"a":705,"t":2.73,"n":5},{"a":735,"t":2.73,"n":2},{"a":765,"t":2.73,"n":3},{"a":795,"t":2.73,"n":2},{"a":825,"t":2.73,"n":3},{"a":855,"t":2.73,"n":4},{"a":885,"t":2.73,"n":2},{"a":915,"t":2.73,"n":2},{"a":945,"t":2.73,"n":1},{"a":975,"t":2.73,"n":1},{"a":1005,"t":2.73,"n":1},{"a":1035,"t":2.73,"n":1},{"a":1095,"t":2.73,"n":5},{"a":1125,"t":2.73,"n":2},{"a":1185,"t":2.73,"n":2},{"a":1215,"t":2.73,"n":2},{"a":1245,"t":2.73,"n":2},{"a":1275,"t":2.73,"n":2},{"a":1305,"t":2.73,"n":2},{"a":1335,"t":2.73,"n":1},{"a":1365,"t":2.73,"n":1},{"a":1425,"t":2.73,"n":2},{"a":1455,"t":2.73,"n":2},{"a":1485,"t":2.73,"n":2},{"a":1515,"t":2.73,"n":2},{"a":1575,"t":2.73,"n":1},{"a":1605,"t":2.73,"n":1},{"a":1635,"t":2.73,"n":1},{"a":1695,"t":2.73,"n":2},{"a":1725,"t":2.73,"n":1},{"a":1785,"t":2.73,"n":4},{"a":1965,"t":2.73,"n":1},{"a":2055,"t":2.73,"n":1},
{"a":225,"t":2.67,"n":1},{"a":255,"t":2.67,"n":1},{"a":285,"t":2.67,"n":2},{"a":315,"t":2.67,"n":3},{"a":345,"t":2.67,"n":3},{"a":375,"t":2.67,"n":5},{"a":405,"t":2.67,"n":6},{"a":435,"t":2.67,"n":5},{"a":465,"t":2.67,"n":4},{"a":495,"t":2.67,"n":5},{"a":525,"t":2.67,"n":4},{"a":555,"t":2.67,"n":11},{"a":585,"t":2.67,"n":6},{"a":615,"t":2.67,"n":4},{"a":645,"t":2.67,"n":3},{"a":675,"t":2.67,"n":6},{"a":705,"t":2.67,"n":9},{"a":735,"t":2.67,"n":9},{"a":765,"t":2.67,"n":3},{"a":795,"t":2.67,"n":6},{"a":825,"t":2.67,"n":2},{"a":855,"t":2.67,"n":5},{"a":885,"t":2.67,"n":2},{"a":915,"t":2.67,"n":2},{"a":945,"t":2.67,"n":1},{"a":975,"t":2.67,"n":1},{"a":1005,"t":2.67,"n":2},{"a":1035,"t":2.67,"n":1},{"a":1125,"t":2.67,"n":4},{"a":1155,"t":2.67,"n":1},{"a":1215,"t":2.67,"n":1},{"a":1245,"t":2.67,"n":2},{"a":1275,"t":2.67,"n":1},{"a":1305,"t":2.67,"n":2},{"a":1335,"t":2.67,"n":1},{"a":1365,"t":2.67,"n":1},{"a":1425,"t":2.67,"n":2},{"a":1455,"t":2.67,"n":1},{"a":1485,"t":2.67,"n":1},{"a":1545,"t":2.67,"n":1},{"a":1665,"t":2.67,"n":1},{"a":1905,"t":2.67,"n":1},{"a":2175,"t":2.67,"n":1},
{"a":225,"t":2.61,"n":1},{"a":255,"t":2.61,"n":2},{"a":285,"t":2.61,"n":3},{"a":315,"t":2.61,"n":3},{"a":345,"t":2.61,"n":2},{"a":375,"t":2.61,"n":4},{"a":405,"t":2.61,"n":9},{"a":435,"t":2.61,"n":6},{"a":465,"t":2.61,"n":4},{"a":495,"t":2.61,"n":10},{"a":525,"t":2.61,"n":6},{"a":555,"t":2.61,"n":4},{"a":585,"t":2.61,"n":9},{"a":615,"t":2.61,"n":4},{"a":645,"t":2.61,"n":4},{"a":675,"t":2.61,"n":5},{"a":705,"t":2.61,"n":4},{"a":735,"t":2.61,"n":3},{"a":765,"t":2.61,"n":2},{"a":795,"t":2.61,"n":3},{"a":825,"t":2.61,"n":4},{"a":855,"t":2.61,"n":2},{"a":885,"t":2.61,"n":2},{"a":915,"t":2.61,"n":1},{"a":945,"t":2.61,"n":2},{"a":1005,"t":2.61,"n":1},{"a":1035,"t":2.61,"n":2},{"a":1155,"t":2.61,"n":1},{"a":1275,"t":2.61,"n":1},{"a":1485,"t":2.61,"n":1},{"a":1545,"t":2.61,"n":1},{"a":1635,"t":2.61,"n":1},{"a":1965,"t":2.61,"n":1},{"a":1995,"t":2.61,"n":1},
{"a":225,"t":2.55,"n":1},{"a":255,"t":2.55,"n":2},{"a":285,"t":2.55,"n":3},{"a":315,"t":2.55,"n":4},{"a":345,"t":2.55,"n":9},{"a":375,"t":2.55,"n":11},{"a":405,"t":2.55,"n":16},{"a":435,"t":2.55,"n":4},{"a":465,"t":2.55,"n":3},{"a":495,"t":2.55,"n":5},{"a":525,"t":2.55,"n":5},{"a":555,"t":2.55,"n":7},{"a":585,"t":2.55,"n":5},{"a":615,"t":2.55,"n":5},{"a":645,"t":2.55,"n":4},{"a":675,"t":2.55,"n":4},{"a":705,"t":2.55,"n":3},{"a":735,"t":2.55,"n":5},{"a":765,"t":2.55,"n":5},{"a":795,"t":2.55,"n":5},{"a":825,"t":2.55,"n":5},{"a":855,"t":2.55,"n":2},{"a":885,"t":2.55,"n":2},{"a":915,"t":2.55,"n":2},{"a":945,"t":2.55,"n":2},{"a":975,"t":2.55,"n":2},{"a":1005,"t":2.55,"n":1},{"a":1035,"t":2.55,"n":2},{"a":1095,"t":2.55,"n":1},{"a":1185,"t":2.55,"n":1},{"a":1245,"t":2.55,"n":1},{"a":1275,"t":2.55,"n":1},{"a":1305,"t":2.55,"n":1},{"a":1335,"t":2.55,"n":1},{"a":1365,"t":2.55,"n":1},{"a":1425,"t":2.55,"n":1},
{"a":195,"t":2.49,"n":1},{"a":255,"t":2.49,"n":1},{"a":285,"t":2.49,"n":2},{"a":315,"t":2.49,"n":3},{"a":345,"t":2.49,"n":9},{"a":375,"t":2.49,"n":10},{"a":405,"t":2.49,"n":13},{"a":435,"t":2.49,"n":12},{"a":465,"t":2.49,"n":3},{"a":495,"t":2.49,"n":13},{"a":525,"t":2.49,"n":11},{"a":555,"t":2.49,"n":10},{"a":585,"t":2.49,"n":8},{"a":615,"t":2.49,"n":3},{"a":645,"t":2.49,"n":5},{"a":675,"t":2.49,"n":4},{"a":705,"t":2.49,"n":1},{"a":735,"t":2.49,"n":1},{"a":765,"t":2.49,"n":2},{"a":795,"t":2.49,"n":2},{"a":825,"t":2.49,"n":2},{"a":855,"t":2.49,"n":1},{"a":885,"t":2.49,"n":1},{"a":915,"t":2.49,"n":1},{"a":945,"t":2.49,"n":1},{"a":975,"t":2.49,"n":1},{"a":1005,"t":2.49,"n":1},{"a":1035,"t":2.49,"n":1},{"a":1095,"t":2.49,"n":1},{"a":1605,"t":2.49,"n":1},
{"a":135,"t":2.43,"n":1},{"a":255,"t":2.43,"n":1},{"a":285,"t":2.43,"n":2},{"a":315,"t":2.43,"n":3},{"a":345,"t":2.43,"n":4},{"a":375,"t":2.43,"n":5},{"a":405,"t":2.43,"n":3},{"a":435,"t":2.43,"n":5},{"a":465,"t":2.43,"n":5},{"a":495,"t":2.43,"n":3},{"a":525,"t":2.43,"n":4},{"a":555,"t":2.43,"n":5},{"a":585,"t":2.43,"n":9},{"a":615,"t":2.43,"n":3},{"a":645,"t":2.43,"n":2},{"a":705,"t":2.43,"n":1},{"a":765,"t":2.43,"n":1},{"a":795,"t":2.43,"n":1},{"a":825,"t":2.43,"n":1},{"a":855,"t":2.43,"n":1},{"a":915,"t":2.43,"n":1},{"a":1005,"t":2.43,"n":1},{"a":1125,"t":2.43,"n":1},{"a":1185,"t":2.43,"n":1},{"a":1395,"t":2.43,"n":1},
{"a":195,"t":2.37,"n":1},{"a":225,"t":2.37,"n":1},{"a":255,"t":2.37,"n":4},{"a":285,"t":2.37,"n":5},{"a":315,"t":2.37,"n":5},{"a":345,"t":2.37,"n":9},{"a":375,"t":2.37,"n":5},{"a":405,"t":2.37,"n":9},{"a":435,"t":2.37,"n":4},{"a":465,"t":2.37,"n":3},{"a":495,"t":2.37,"n":3},{"a":525,"t":2.37,"n":2},{"a":555,"t":2.37,"n":3},{"a":585,"t":2.37,"n":2},{"a":645,"t":2.37,"n":1},{"a":675,"t":2.37,"n":1},{"a":705,"t":2.37,"n":1},{"a":795,"t":2.37,"n":1},{"a":825,"t":2.37,"n":1},{"a":915,"t":2.37,"n":1},{"a":1185,"t":2.37,"n":1},
{"a":165,"t":2.31,"n":1},{"a":195,"t":2.31,"n":1},{"a":225,"t":2.31,"n":4},{"a":255,"t":2.31,"n":5},{"a":285,"t":2.31,"n":5},{"a":315,"t":2.31,"n":10},{"a":345,"t":2.31,"n":5},{"a":375,"t":2.31,"n":16},{"a":405,"t":2.31,"n":7},{"a":435,"t":2.31,"n":5},{"a":465,"t":2.31,"n":3},{"a":495,"t":2.31,"n":2},{"a":525,"t":2.31,"n":3},{"a":555,"t":2.31,"n":1},{"a":585,"t":2.31,"n":1},{"a":675,"t":2.31,"n":1},{"a":705,"t":2.31,"n":1},{"a":765,"t":2.31,"n":1},{"a":825,"t":2.31,"n":1},{"a":855,"t":2.31,"n":1},{"a":915,"t":2.31,"n":1},{"a":945,"t":2.31,"n":1},
{"a":165,"t":2.25,"n":1},{"a":195,"t":2.25,"n":1},{"a":225,"t":2.25,"n":1},{"a":255,"t":2.25,"n":5},{"a":285,"t":2.25,"n":5},{"a":315,"t":2.25,"n":11},{"a":345,"t":2.25,"n":4},{"a":375,"t":2.25,"n":6},{"a":405,"t":2.25,"n":12},{"a":435,"t":2.25,"n":11},{"a":465,"t":2.25,"n":13},{"a":495,"t":2.25,"n":4},{"a":525,"t":2.25,"n":3},{"a":555,"t":2.25,"n":2},{"a":585,"t":2.25,"n":1},{"a":675,"t":2.25,"n":1},{"a":795,"t":2.25,"n":1},{"a":945,"t":2.25,"n":1},{"a":975,"t":2.25,"n":1},
{"a":195,"t":2.19,"n":1},{"a":255,"t":2.19,"n":4},{"a":285,"t":2.19,"n":5},{"a":315,"t":2.19,"n":5},{"a":345,"t":2.19,"n":6},{"a":375,"t":2.19,"n":8},{"a":405,"t":2.19,"n":5},{"a":435,"t":2.19,"n":4},{"a":465,"t":2.19,"n":3},{"a":495,"t":2.19,"n":2},{"a":525,"t":2.19,"n":2},{"a":555,"t":2.19,"n":1},{"a":585,"t":2.19,"n":1},{"a":615,"t":2.19,"n":1},{"a":675,"t":2.19,"n":1},{"a":855,"t":2.19,"n":1},{"a":1035,"t":2.19,"n":1},
{"a":195,"t":2.13,"n":1},{"a":225,"t":2.13,"n":1},{"a":255,"t":2.13,"n":3},{"a":285,"t":2.13,"n":7},{"a":315,"t":2.13,"n":5},{"a":345,"t":2.13,"n":5},{"a":375,"t":2.13,"n":8},{"a":405,"t":2.13,"n":4},{"a":435,"t":2.13,"n":1},{"a":465,"t":2.13,"n":1},{"a":495,"t":2.13,"n":1},{"a":525,"t":2.13,"n":1},{"a":555,"t":2.13,"n":1},{"a":585,"t":2.13,"n":1},{"a":615,"t":2.13,"n":1},{"a":705,"t":2.13,"n":1},{"a":735,"t":2.13,"n":1},
{"a":225,"t":2.07,"n":1},{"a":255,"t":2.07,"n":1},{"a":285,"t":2.07,"n":5},{"a":315,"t":2.07,"n":6},{"a":345,"t":2.07,"n":5},{"a":375,"t":2.07,"n":5},{"a":405,"t":2.07,"n":8},{"a":435,"t":2.07,"n":3},{"a":465,"t":2.07,"n":3},{"a":495,"t":2.07,"n":1},{"a":555,"t":2.07,"n":1},{"a":585,"t":2.07,"n":1},{"a":705,"t":2.07,"n":1},{"a":795,"t":2.07,"n":1},
{"a":135,"t":2.01,"n":1},{"a":195,"t":2.01,"n":1},{"a":255,"t":2.01,"n":6},{"a":285,"t":2.01,"n":6},{"a":315,"t":2.01,"n":5},{"a":345,"t":2.01,"n":2},{"a":375,"t":2.01,"n":3},{"a":405,"t":2.01,"n":5},{"a":435,"t":2.01,"n":6},{"a":465,"t":2.01,"n":2},{"a":645,"t":2.01,"n":1},{"a":675,"t":2.01,"n":1},{"a":735,"t":2.01,"n":1},{"a":795,"t":2.01,"n":1},
{"a":165,"t":1.95,"n":1},{"a":255,"t":1.95,"n":5},{"a":285,"t":1.95,"n":5},{"a":315,"t":1.95,"n":8},{"a":345,"t":1.95,"n":3},{"a":375,"t":1.95,"n":2},{"a":405,"t":1.95,"n":2},{"a":435,"t":1.95,"n":3},{"a":465,"t":1.95,"n":4},{"a":495,"t":1.95,"n":1},{"a":525,"t":1.95,"n":1},{"a":705,"t":1.95,"n":1},
{"a":135,"t":1.89,"n":3},{"a":165,"t":1.89,"n":2},{"a":195,"t":1.89,"n":3},{"a":225,"t":1.89,"n":4},{"a":255,"t":1.89,"n":4},{"a":285,"t":1.89,"n":4},{"a":315,"t":1.89,"n":3},{"a":345,"t":1.89,"n":4},{"a":375,"t":1.89,"n":4},{"a":405,"t":1.89,"n":3},{"a":435,"t":1.89,"n":1},{"a":465,"t":1.89,"n":1},{"a":495,"t":1.89,"n":1},{"a":525,"t":1.89,"n":1},{"a":585,"t":1.89,"n":1},
{"a":195,"t":1.83,"n":1},{"a":225,"t":1.83,"n":1},{"a":255,"t":1.83,"n":2},{"a":285,"t":1.83,"n":2},{"a":315,"t":1.83,"n":3},{"a":345,"t":1.83,"n":1},{"a":375,"t":1.83,"n":2},{"a":405,"t":1.83,"n":2},{"a":495,"t":1.83,"n":1},
{"a":105,"t":1.77,"n":1},{"a":195,"t":1.77,"n":2},{"a":225,"t":1.77,"n":3},{"a":255,"t":1.77,"n":4},{"a":285,"t":1.77,"n":2},{"a":315,"t":1.77,"n":2},{"a":345,"t":1.77,"n":3},{"a":375,"t":1.77,"n":1},{"a":405,"t":1.77,"n":1},
{"a":165,"t":1.71,"n":1},{"a":195,"t":1.71,"n":1},{"a":225,"t":1.71,"n":1},{"a":255,"t":1.71,"n":4},{"a":285,"t":1.71,"n":2},{"a":315,"t":1.71,"n":1},{"a":345,"t":1.71,"n":1},{"a":375,"t":1.71,"n":1},{"a":435,"t":1.71,"n":1},
{"a":135,"t":1.65,"n":1},{"a":165,"t":1.65,"n":1},{"a":195,"t":1.65,"n":2},{"a":225,"t":1.65,"n":3},{"a":255,"t":1.65,"n":3},{"a":285,"t":1.65,"n":2},{"a":315,"t":1.65,"n":2},{"a":345,"t":1.65,"n":2},{"a":375,"t":1.65,"n":1},
{"a":135,"t":1.59,"n":1},{"a":165,"t":1.59,"n":1},{"a":195,"t":1.59,"n":1},{"a":225,"t":1.59,"n":2},{"a":255,"t":1.59,"n":2},{"a":285,"t":1.59,"n":3},{"a":345,"t":1.59,"n":1},{"a":375,"t":1.59,"n":1},{"a":525,"t":1.59,"n":2},
{"a":75,"t":1.53,"n":1},{"a":195,"t":1.53,"n":3},{"a":255,"t":1.53,"n":1},{"a":285,"t":1.53,"n":1},{"a":345,"t":1.53,"n":1},
{"a":135,"t":1.47,"n":1},{"a":165,"t":1.47,"n":2},{"a":195,"t":1.47,"n":2},{"a":225,"t":1.47,"n":1},{"a":255,"t":1.47,"n":1},{"a":285,"t":1.47,"n":1},{"a":315,"t":1.47,"n":1},{"a":345,"t":1.47,"n":1},
{"a":165,"t":1.41,"n":1},{"a":195,"t":1.41,"n":1},
{"a":75,"t":1.35,"n":1},{"a":135,"t":1.35,"n":1},{"a":225,"t":1.35,"n":1},{"a":255,"t":1.35,"n":1},{"a":285,"t":1.35,"n":1},{"a":315,"t":1.35,"n":1},
{"a":135,"t":1.29,"n":1},{"a":165,"t":1.29,"n":1},{"a":195,"t":1.29,"n":1},{"a":225,"t":1.29,"n":1},
{"a":75,"t":1.23,"n":1},{"a":135,"t":1.23,"n":1},{"a":165,"t":1.23,"n":1},{"a":195,"t":1.23,"n":2},{"a":225,"t":1.23,"n":1},
{"a":105,"t":1.17,"n":1},
{"a":75,"t":1.11,"n":1},{"a":105,"t":1.11,"n":1},{"a":165,"t":1.11,"n":2},
{"a":105,"t":1.05,"n":1},{"a":165,"t":1.05,"n":2},
{"a":45,"t":0.99,"n":0.5},{"a":75,"t":0.99,"n":0.5},{"a":135,"t":0.99,"n":1},{"a":165,"t":0.99,"n":1},
{"a":135,"t":0.93,"n":1},
{"a":105,"t":0.81,"n":1},
{"a":75,"t":0.63,"n":1},{"a":75,"t":0.57,"n":1},
{"a":15,"t":0.21,"n":0.5}
]},"mark":{"type":"rect","width":7.5,"height":5.6},"encoding":{"x":{"field":"a","type":"quantitative","scale":{"domain":[0,3000],"nice":false,"zero":false},"axis":{"title":"Amplitude (ADU)","titleAnchor":"end","titleFont":"Liberation Sans","titleFontSize":21.5,"titleFontWeight":"normal","titleColor":"#111111","titlePadding":-2,"values":[0,500,1000,1500,2000,2500,3000],"format":"d","ticks":false,"grid":false,"domainColor":"#111111","labelFont":"Liberation Sans","labelFontSize":20.5,"labelColor":"#111111","labelPadding":7,"labelFlush":false,"labelOverlap":false}},"y":{"field":"t","type":"quantitative","scale":{"domain":[0,6],"nice":false,"zero":false},"axis":{"title":"Risetime (μs)","titleAnchor":"end","titleFont":"Liberation Sans","titleFontSize":21,"titleFontWeight":"normal","titleColor":"#111111","titlePadding":16,"values":[0,1,2,3,4,5,6],"format":"d","ticks":false,"grid":false,"domainColor":"#808080","domainWidth":2,"labelFont":"Liberation Sans","labelFontSize":20.5,"labelColor":"#111111","labelPadding":4,"labelFlush":false,"labelOverlap":false}},"color":{"field":"n","type":"quantitative","legend":null,"scale":{"type":"threshold","domain":[0.8,1.6,2.4,3.2,4,4.8,5.6,6.4,7.2,8,8.8,9.6,10.4,11.2,12,12.8,13.6,14.4,15.2],"range":["#2b3aa5","#1a4cc6","#1159d8","#1768d5","#1877d0","#1486cc","#0e95c8","#10a0c0","#1daab0","#2fb09e","#4fb58f","#70b67c","#8fb570","#a9b367","#c6b25c","#dcb550","#f2bc3c","#fcc32a","#f8df1c","#fafa0a"]}}}},
{"data":{"values":[{"v":0},{"v":500},{"v":1000},{"v":1500},{"v":2000},{"v":2500},{"v":3000}]},"mark":{"type":"rule","color":"#777777","strokeWidth":1.5},"encoding":{"x":{"field":"v","type":"quantitative"},"y":{"datum":0},"y2":{"datum":0.18}}},
{"data":{"values":[{"v":100},{"v":200},{"v":300},{"v":400},{"v":600},{"v":700},{"v":800},{"v":900},{"v":1100},{"v":1200},{"v":1300},{"v":1400},{"v":1600},{"v":1700},{"v":1800},{"v":1900},{"v":2100},{"v":2200},{"v":2300},{"v":2400},{"v":2600},{"v":2700},{"v":2800},{"v":2900}]},"mark":{"type":"rule","color":"#222222","strokeWidth":1},"encoding":{"x":{"field":"v","type":"quantitative"},"y":{"datum":0},"y2":{"datum":0.09}}},
{"data":{"values":[{"v":0},{"v":1},{"v":2},{"v":3},{"v":4},{"v":5},{"v":6}]},"mark":{"type":"rule","color":"#222222","strokeWidth":1},"encoding":{"y":{"field":"v","type":"quantitative"},"x":{"datum":0},"x2":{"datum":92}}},
{"data":{"values":[{"v":0.2},{"v":0.4},{"v":0.6},{"v":0.8},{"v":1.2},{"v":1.4},{"v":1.6},{"v":1.8},{"v":2.2},{"v":2.4},{"v":2.6},{"v":2.8},{"v":3.2},{"v":3.4},{"v":3.6},{"v":3.8},{"v":4.2},{"v":4.4},{"v":4.6},{"v":4.8},{"v":5.2},{"v":5.4},{"v":5.6},{"v":5.8}]},"mark":{"type":"rule","color":"#222222","strokeWidth":1},"encoding":{"y":{"field":"v","type":"quantitative"},"x":{"datum":0},"x2":{"datum":46}}},
{"data":{"values":[{"v":3000}]},"mark":{"type":"rule","color":"#808080","strokeWidth":2},"encoding":{"x":{"field":"v","type":"quantitative"},"y":{"datum":0},"y2":{"datum":6}}},
{"data":{"values":[{"v":6}]},"mark":{"type":"rule","color":"#111111","strokeWidth":1},"encoding":{"y":{"field":"v","type":"quantitative"},"x":{"datum":0},"x2":{"datum":3000}}}
]},
{"width":40,"height":528,"layer":[{"data":{"values":[{"lo":0,"hi":0.8},{"lo":0.8,"hi":1.6},{"lo":1.6,"hi":2.4},{"lo":2.4,"hi":3.2},{"lo":3.2,"hi":4},{"lo":4,"hi":4.8},{"lo":4.8,"hi":5.6},{"lo":5.6,"hi":6.4},{"lo":6.4,"hi":7.2},{"lo":7.2,"hi":8},{"lo":8,"hi":8.8},{"lo":8.8,"hi":9.6},{"lo":9.6,"hi":10.4},{"lo":10.4,"hi":11.2},{"lo":11.2,"hi":12},{"lo":12,"hi":12.8},{"lo":12.8,"hi":13.6},{"lo":13.6,"hi":14.4},{"lo":14.4,"hi":15.2},{"lo":15.2,"hi":16}]},"mark":{"type":"rect"},"encoding":{"x":{"datum":0,"type":"quantitative","scale":{"domain":[0,1],"nice":false},"axis":null},"x2":{"datum":1},"y":{"field":"lo","type":"quantitative","scale":{"domain":[0,16],"nice":false},"axis":{"orient":"right","title":null,"values":[0,2,4,6,8,10,12,14,16],"format":"d","ticks":false,"grid":false,"domainColor":"#333333","labelFont":"Liberation Sans","labelFontSize":20.5,"labelColor":"#111111","labelPadding":4,"labelFlush":false,"labelOverlap":false}},"y2":{"field":"hi"},"color":{"field":"lo","type":"quantitative","legend":null,"scale":{"type":"threshold","domain":[0.8,1.6,2.4,3.2,4,4.8,5.6,6.4,7.2,8,8.8,9.6,10.4,11.2,12,12.8,13.6,14.4,15.2],"range":["#2b3aa5","#1a4cc6","#1159d8","#1768d5","#1877d0","#1486cc","#0e95c8","#10a0c0","#1daab0","#2fb09e","#4fb58f","#70b67c","#8fb570","#a9b367","#c6b25c","#dcb550","#f2bc3c","#fcc32a","#f8df1c","#fafa0a"]}}}},
{"data":{"values":[{"v":0},{"v":2},{"v":4},{"v":6},{"v":8},{"v":10},{"v":12},{"v":14},{"v":16}]},"mark":{"type":"rule","color":"#222222","strokeWidth":1},"encoding":{"y":{"field":"v","type":"quantitative"},"x":{"datum":0.46},"x2":{"datum":1}}}
]}
]}
